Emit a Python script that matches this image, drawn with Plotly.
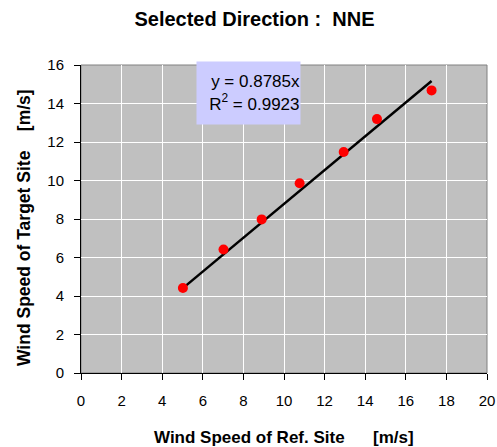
import plotly.graph_objects as go

ref_speed = [5.02, 7.02, 8.90, 10.77, 12.94, 14.58, 17.27]
target_speed = [4.42, 6.42, 7.98, 9.86, 11.48, 13.19, 14.68]
slope = 0.8785
r2 = 0.9923
x_ticks = list(range(0, 21, 2))
y_ticks = list(range(0, 17, 2))

xmin, xmax = min(ref_speed), max(ref_speed)
fit_x = [xmin, xmax]
fit_y = [slope * v for v in fit_x]

font = "Liberation Sans, Arial, sans-serif"

fig = go.Figure()
fig.add_trace(go.Scatter(x=fit_x, y=fit_y, mode="lines",
                         line=dict(color="black", width=2.5), showlegend=False))
fig.add_trace(go.Scatter(x=ref_speed, y=target_speed, mode="markers",
                         marker=dict(color="#FF0000", size=10), showlegend=False))

fig.add_annotation(x=0.283, y=1.013, xref="paper", yref="paper", xanchor="left", yanchor="top",
                   text=f"y = {slope}x<br>R<sup>2</sup> = {r2}", showarrow=False,
                   align="right", bgcolor="#CCCCFF", borderpad=0, width=103, height=62,
                   font=dict(family=font, size=17, color="black"))

# axis titles
fig.add_annotation(x=0.4988, y=-0.2078, xref="paper", yref="paper", xanchor="center",
                   yanchor="middle", showarrow=False,
                   text="<b>Wind Speed of Ref. Site      [m/s]</b>",
                   font=dict(family=font, size=17, color="black"))
fig.add_annotation(x=-0.1404, y=0.474, xref="paper", yref="paper", xanchor="center",
                   yanchor="middle", showarrow=False, textangle=-90,
                   text="<b>Wind Speed of Target Site    [m/s]</b>",
                   font=dict(family=font, size=17.5, color="black"))

fig.update_layout(
    width=497, height=447,
    margin=dict(l=81, r=10, t=65, b=74),
    paper_bgcolor="white", plot_bgcolor="#C0C0C0",
    title=dict(text="<b>Selected Direction :  NNE</b>", x=0.512, xanchor="center",
               y=0.958, yanchor="middle",
               font=dict(family=font, size=20, color="black")),
    font=dict(family=font, size=15, color="black"),
    xaxis=dict(range=[0, 20], tickvals=x_ticks, showgrid=True, gridcolor="white", gridwidth=1,
               showline=True, linecolor="black", linewidth=1, ticks="outside", ticklen=6,
               tickcolor="black", zeroline=False, automargin=False, ticklabelstandoff=8),
    yaxis=dict(range=[0, 16], tickvals=y_ticks, showgrid=True, gridcolor="white", gridwidth=1,
               showline=True, linecolor="black", linewidth=1, ticks="outside", ticklen=6,
               tickcolor="black", zeroline=False, automargin=False, ticklabelstandoff=7),
)
fig.add_shape(type="rect", xref="paper", yref="paper", x0=0, y0=0, x1=1, y1=1,
              line=dict(color="#808080", width=1), layer="below")

fig.write_html("out.html", config={"displayModeBar": False},
               post_script="document.body.style.margin='0';document.body.style.overflow='hidden';")
